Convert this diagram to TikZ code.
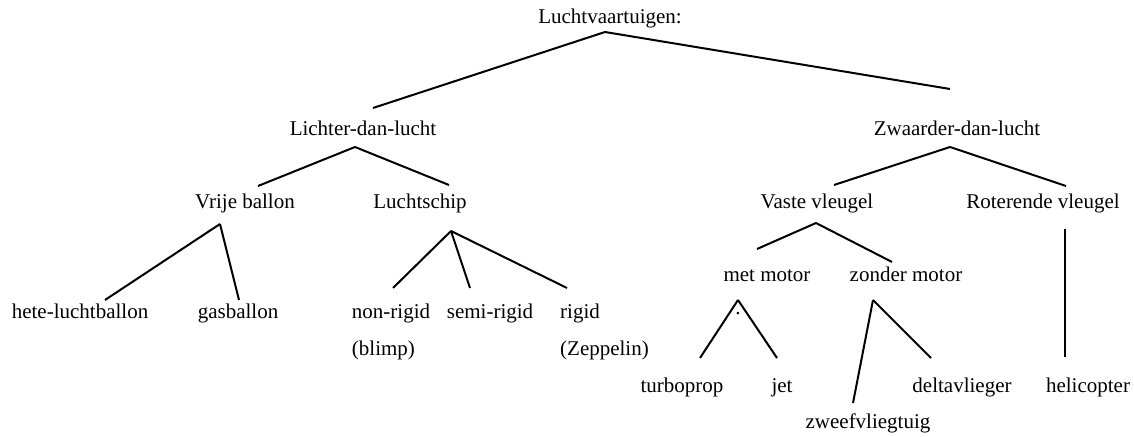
\documentclass[tikz,border=0pt]{standalone}
\usepackage{fontspec}
\setmainfont{Liberation Serif}
\usepackage{tikz}
\usetikzlibrary{positioning,calc}

\tikzset{
  lbl/.style={font=\fontsize{10.5}{12}\selectfont, inner sep=0pt, anchor=base},
  branch/.style={line width=1pt},
}

\begin{document}
\begin{tikzpicture}[x=0.5pt, y=-0.5pt]
    \useasboundingbox (0,0) rectangle (1134,437);

    % Top
    \node[lbl] (lucht) at (610,24) {Luchtvaartuigen:};

    % Level 1
    \node[lbl] (lichter) at (363,136) {Lichter-dan-lucht};
    \node[lbl] (zwaarder) at (957,136) {Zwaarder-dan-lucht};

    % Level 2
    \node[lbl] (vrije) at (245,209) {Vrije ballon};
    \node[lbl] (schip) at (420,209) {Luchtschip};
    \node[lbl] (vast) at (817,209) {Vaste vleugel};
    \node[lbl] (roterend) at (1043,209) {Roterende vleugel};

    % Level 3 (left)
    \node[lbl] (hete) at (80,319) {hete-luchtballon};
    \node[lbl] (gas) at (238,319) {gasballon};
    \node[lbl] (nonrigid) at (391,319) {non-rigid};
    \node[lbl] (semirigid) at (490,319) {semi-rigid};
    \node[lbl] (rigid) at (580,319) {rigid};
    \node[lbl, anchor=base west] (blimp) at ($(nonrigid.base west)+(0,37)$) {(blimp)};
    \node[lbl, anchor=base west] (zeppelin) at ($(rigid.base west)+(0,37)$) {(Zeppelin)};

    % Level 3 (right)
    \node[lbl] (metm) at (767,282) {met motor};
    \node[lbl] (zonderm) at (906,282) {zonder motor};
    \node[lbl] (dot) at (738,315) {.};
    \node[lbl] (turbo) at (682,393) {turboprop};
    \node[lbl] (jet) at (782,393) {jet};
    \node[lbl] (delta) at (962,393) {deltavlieger};
    \node[lbl] (heli) at (1088,393) {helicopter};
    \node[lbl] (zweef) at (868,429) {zweefvliegtuig};

    % Junctions
    \coordinate (lucht-j) at ($(lucht.base)+(-5,8)$);
    \coordinate (lichter-j) at ($(lichter.base)+(-8,11)$);
    \coordinate (zwaarder-j) at ($(zwaarder.base)+(-7,11)$);
    \coordinate (vrije-j) at ($(vrije.base)+(-25,15)$);
    \coordinate (schip-j) at ($(schip.base)+(31,22)$);
    \coordinate (vast-j) at ($(vast.base)+(-1,14)$);
    \coordinate (roterend-j) at ($(roterend.base)+(22,20)$);
    \coordinate (metm-j) at ($(metm.base)+(-29,18)$);
    \coordinate (zonderm-j) at ($(zonderm.base)+(-33,18)$);

    % Branches
    \draw[branch] (lucht-j) -- ($(lichter.base)+(10,-28)$);
    \draw[branch] (lucht-j) -- ($(zwaarder.base)+(-7,-47)$);

    \draw[branch] (lichter-j) -- ($(vrije.base)+(13,-23)$);
    \draw[branch] (lichter-j) -- ($(schip.base)+(29,-24)$);
    \draw[branch] (zwaarder-j) -- ($(vast.base)+(17,-24)$);
    \draw[branch] (zwaarder-j) -- ($(roterend.base)+(23,-23)$);

    \draw[branch] (vrije-j) -- ($(hete.base)+(25,-19)$);
    \draw[branch] (vrije-j) -- ($(gas.base)+(1,-19)$);
    \draw[branch] (schip-j) -- ($(nonrigid.base)+(2,-31)$);
    \draw[branch] (schip-j) -- ($(semirigid.base)+(-20,-31)$);
    \draw[branch] (schip-j) -- ($(rigid.base)+(-13,-31)$);

    \draw[branch] (vast-j) -- ($(metm.base)+(-10,-33)$);
    \draw[branch] (vast-j) -- ($(zonderm.base)+(-14,-20)$);
    \draw[branch] (roterend-j) -- ($(heli.base)+(-23,-36)$);

    \draw[branch] (metm-j) -- ($(turbo.base)+(18,-35)$);
    \draw[branch] (metm-j) -- ($(jet.base)+(-5,-35)$);
    \draw[branch] (zonderm-j) -- ($(zweef.base)+(-15,-26)$);
    \draw[branch] (zonderm-j) -- ($(delta.base)+(-31,-35)$);
\end{tikzpicture}
\end{document}
